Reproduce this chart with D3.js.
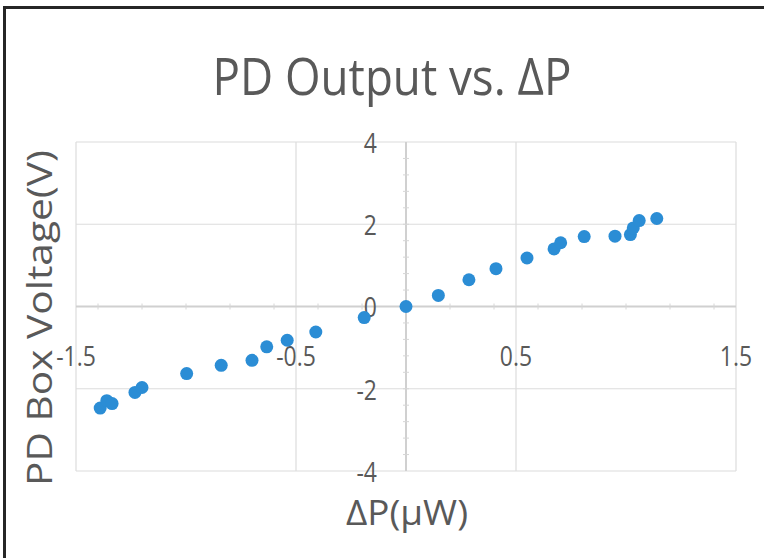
<!DOCTYPE html>
<html><head><meta charset="utf-8">
<script src="https://cdn.jsdelivr.net/npm/d3@7"></script>
<style>
html,body{margin:0;padding:0;background:#fff;}
svg{display:block;}
text{font-family:"Open Sans","Noto Sans",sans-serif;fill:#595959;}
</style></head>
<body><svg id="chart" width="764" height="558"></svg>
<script>
const title = "PD Output vs. ΔP";
const xTitle = "ΔP(μW)";
const yTitle = "PD Box Voltage(V)";
const deltaP = [-1.39,-1.36,-1.336,-1.232,-1.2,-0.997,-0.84,-0.70,-0.633,-0.54,-0.41,-0.19,0,0.147,0.286,0.409,0.55,0.673,0.703,0.81,0.95,1.02,1.033,1.06,1.14];
const voltage = [-2.47,-2.29,-2.36,-2.09,-1.97,-1.63,-1.43,-1.31,-0.98,-0.82,-0.62,-0.27,0,0.27,0.65,0.92,1.18,1.40,1.55,1.70,1.71,1.75,1.91,2.09,2.14];
const xTicks = [-1.5,-0.5,0.5,1.5];
const yTicks = [-4,-2,0,2,4];
const xMinor = d3.range(-1.4,1.5,0.2);
const yMinor = d3.range(-3.6,4,0.4);

const svg = d3.select("#chart");
const x = d3.scaleLinear().domain([-1.5,1.5]).range([76,736]);
const y = d3.scaleLinear().domain([-4,4]).range([471,142]);

// outer frame
svg.append("path").attr("d","M4.5,560 L4.5,7.5 L766,7.5").attr("fill","none").attr("stroke","#262626").attr("stroke-width",3);

// gridlines
const grid = svg.append("g").attr("stroke","#dcdcdc").attr("stroke-width",1.2);
yTicks.forEach(v=>grid.append("line").attr("x1",x(-1.5)).attr("x2",x(1.5)).attr("y1",y(v)).attr("y2",y(v)));
xTicks.forEach(v=>grid.append("line").attr("y1",y(-4)).attr("y2",y(4)).attr("x1",x(v)).attr("x2",x(v)));

// zero axes
const ax = svg.append("g").attr("stroke","#d0d0d0").attr("stroke-width",2);
ax.append("line").attr("x1",x(-1.5)).attr("x2",x(1.5)).attr("y1",y(0)).attr("y2",y(0));
ax.append("line").attr("x1",x(0)).attr("x2",x(0)).attr("y1",y(-4)).attr("y2",y(4));
// minor ticks
const mt = svg.append("g").attr("stroke","#d6d6d6").attr("stroke-width",1);
xMinor.forEach(v=>mt.append("line").attr("x1",x(v)).attr("x2",x(v)).attr("y1",y(0)-3).attr("y2",y(0)+3));
yMinor.forEach(v=>mt.append("line").attr("x1",x(0)-3).attr("x2",x(0)+3).attr("y1",y(v)).attr("y2",y(v)));

// tick labels
const tl = svg.append("g").style("font-size","27px");
yTicks.forEach(v=>tl.append("text").attr("x",x(0)-29).attr("y",y(v)).attr("text-anchor","end").attr("dominant-baseline","central")
  .attr("transform",`translate(${x(0)-29},${y(v)}) scale(0.85,1) translate(${-(x(0)-29)},${-y(v)})`).text(String(v)));
xTicks.forEach(v=>tl.append("text").attr("x",x(v)).attr("y",y(0)+49).attr("text-anchor","middle").attr("dominant-baseline","central")
  .attr("transform",`translate(${x(v)},0) scale(0.85,1) translate(${-x(v)},0)`).text(String(v)));

// points
svg.append("g").selectAll("circle").data(deltaP).join("circle")
  .attr("cx",(d)=>x(d)).attr("cy",(d,i)=>y(voltage[i])).attr("r",6.5).attr("fill","#2b8dd5");

// titles
svg.append("text").attr("x",392).attr("y",74).attr("text-anchor","middle").attr("dominant-baseline","central")
  .style("font-size","52px").attr("textLength",359).attr("lengthAdjust","spacingAndGlyphs").text(title);
svg.append("text").attr("x",407).attr("y",511).attr("text-anchor","middle").attr("dominant-baseline","central")
  .style("font-size","35px").attr("textLength",122).attr("lengthAdjust","spacingAndGlyphs").text(xTitle);
svg.append("text").attr("transform","translate(38,318) rotate(-90)").attr("text-anchor","middle").attr("dominant-baseline","central")
  .style("font-size","35px").attr("textLength",336).attr("lengthAdjust","spacingAndGlyphs").text(yTitle);
</script></body></html>
